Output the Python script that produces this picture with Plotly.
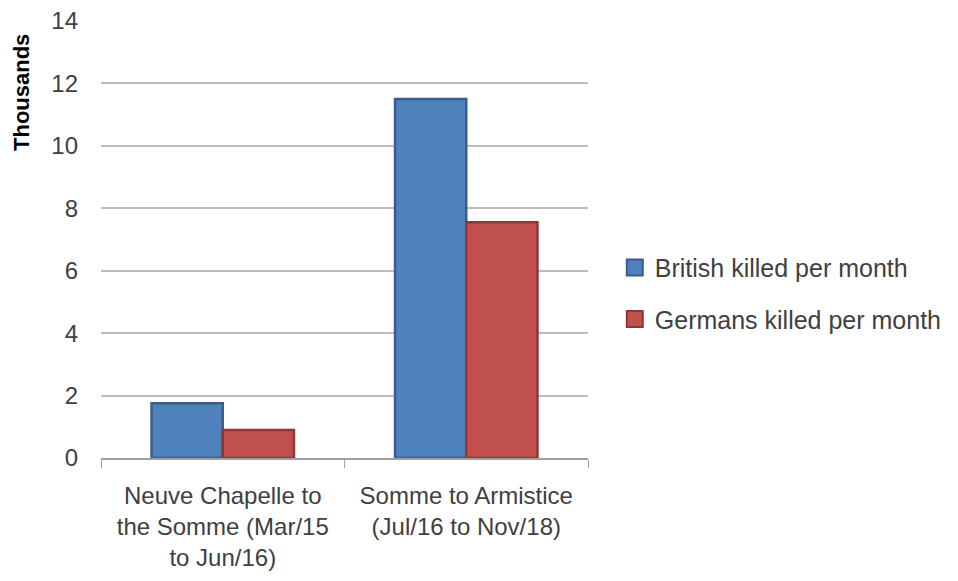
import plotly.graph_objects as go

categories = ["Neuve Chapelle to<br>the Somme (Mar/15<br>to Jun/16)",
              "Somme to Armistice<br>(Jul/16 to Nov/18)"]
british = [1.75, 11.5]
germans = [0.9, 7.55]
series_names = ["British killed per month", "Germans killed per month"]
y_ticks = [0, 2, 4, 6, 8, 10, 12, 14]

font_family = "Liberation Sans"
text_color = "#404040"
fills = ["#4F81BD", "#C0504D"]
edges = ["#385D8A", "#8C3836"]

fig = go.Figure()
for vals, name, fc, ec in zip([british, germans], series_names, fills, edges):
    fig.add_trace(go.Bar(
        x=categories, y=vals, name=name, showlegend=False,
        marker=dict(color=fc, line=dict(color=ec, width=2.5)),
    ))
# legend entries with larger square keys
for i, (name, fc, ec) in enumerate(zip(series_names, fills, edges)):
    fig.add_trace(go.Scatter(
        x=[None], y=[None], mode="markers", name=name, legendgroup=str(i),
        marker=dict(symbol="square", size=16, color=fc, line=dict(color=ec, width=2)),
    ))

fig.update_layout(
    width=958, height=581,
    margin=dict(l=101, r=370, t=20, b=123, autoexpand=False),
    paper_bgcolor="white", plot_bgcolor="white",
    barmode="group", bargap=0.415, bargroupgap=0,
    font=dict(family=font_family, size=24, color=text_color),
    showlegend=True,
    legend=dict(x=1.055, y=0.376, xanchor="left", yanchor="middle",
                font=dict(size=25, color=text_color),
                tracegroupgap=16, itemwidth=30, bgcolor="rgba(0,0,0,0)"),
    xaxis=dict(
        showline=True, linecolor="#a0a0a0", linewidth=1.5,
        ticks="outside", tickson="boundaries", ticklen=8, tickcolor="#a0a0a0",
        tickfont=dict(size=24, color=text_color), ticklabelstandoff=15,
        showgrid=False, automargin=False,
    ),
    yaxis=dict(
        range=[0, 14.03], tickvals=y_ticks,
        showgrid=True, gridcolor="#bdbdbd", gridwidth=1.5,
        showline=False, zeroline=False,
        ticks="", ticklabelstandoff=22, automargin=False,
        tickfont=dict(size=24, color=text_color),
    ),
    annotations=[dict(
        text="<b>Thousands</b>", xref="paper", yref="paper",
        x=(22 - 101) / 487, y=(458 - 93) / 438, xanchor="center", yanchor="middle",
        textangle=-90, showarrow=False, font=dict(size=22, color="black"),
    )],
)

fig.write_html("out.html")
